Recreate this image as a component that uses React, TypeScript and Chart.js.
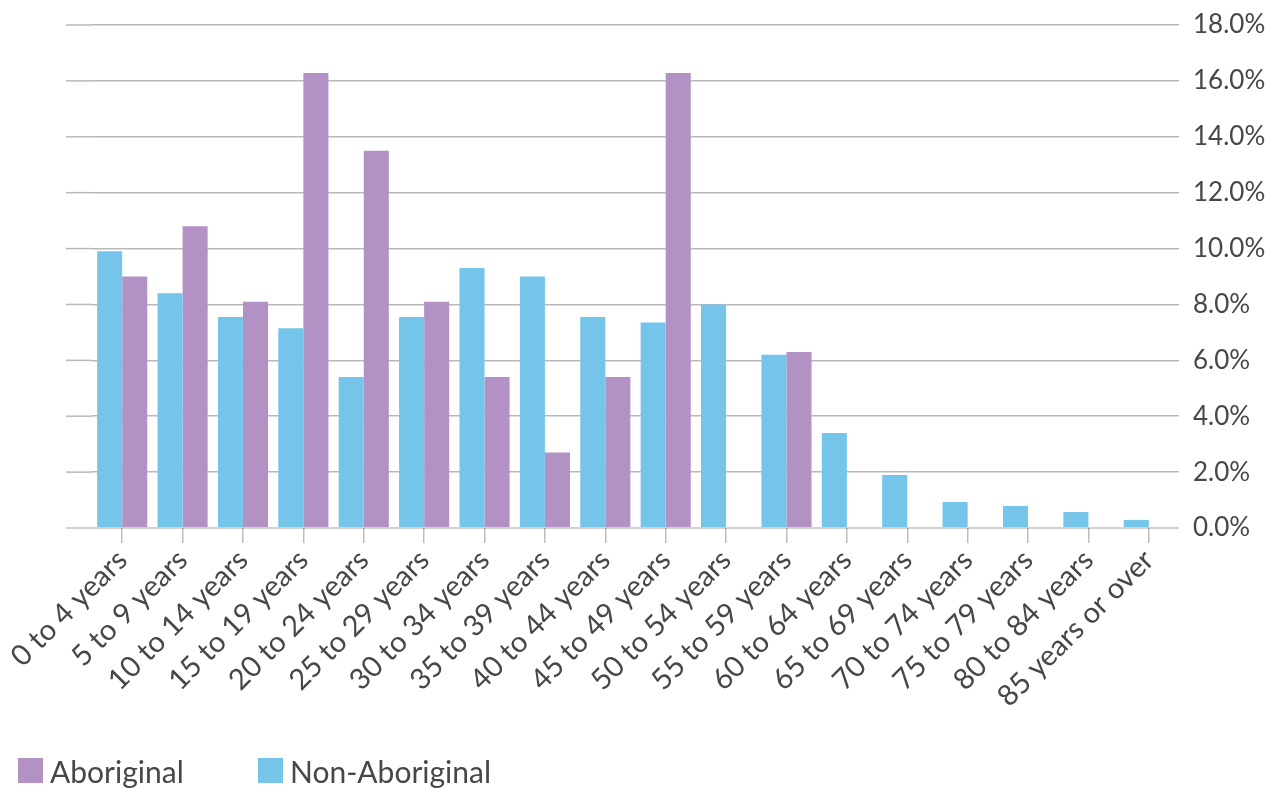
import React, { useEffect, useRef } from "react";
import { Chart, registerables } from "chart.js";

Chart.register(...registerables);

const categories = [
  "0 to 4 years", "5 to 9 years", "10 to 14 years", "15 to 19 years",
  "20 to 24 years", "25 to 29 years", "30 to 34 years", "35 to 39 years",
  "40 to 44 years", "45 to 49 years", "50 to 54 years", "55 to 59 years",
  "60 to 64 years", "65 to 69 years", "70 to 74 years", "75 to 79 years",
  "80 to 84 years", "85 years or over",
];
const nonAboriginal = [9.9, 8.4, 7.55, 7.15, 5.4, 7.55, 9.3, 9.0, 7.55, 7.35, 8.0, 6.2, 3.4, 1.9, 0.93, 0.79, 0.57, 0.29];
const aboriginal = [9.0, 10.8, 8.1, 16.28, 13.5, 8.1, 5.4, 2.7, 5.4, 16.28, 0, 6.3, 0, 0, 0, 0, 0, 0];
const seriesNames = ["Non-Aboriginal", "Aboriginal"];
const yMin = 0;
const yMax = 18;
const yStep = 2;

const FONT = "Lato, 'Open Sans', sans-serif";
const TEXT = "#474747";
const BLUE = "#74C5E9";
const PURPLE = "#B292C4";
const GRID = "rgba(0,0,0,0.28)";
const BASE = "rgba(0,0,0,0.18)";

const gridExtend = {
  id: "gridExtend",
  afterDraw(chart: any) {
    const { ctx, chartArea, scales } = chart;
    const y = scales.y;
    ctx.save();
    y.ticks.forEach((t: any) => {
      const py = y.getPixelForValue(t.value);
      ctx.strokeStyle = t.value === 0 ? BASE : GRID;
      ctx.lineWidth = t.value === 0 ? 2 : 1.5;
      ctx.beginPath();
      ctx.moveTo(66, py);
      ctx.lineTo(chartArea.left, py);
      ctx.stroke();
    });
    ctx.restore();
  },
};

const customLegend = {
  id: "customLegend",
  afterDraw(chart: any) {
    const { ctx } = chart;
    const items = chart.data.datasets.map((d: any) => ({ label: d.label, color: d.backgroundColor })).reverse();
    ctx.save();
    ctx.font = `30px ${FONT}`;
    ctx.textBaseline = "alphabetic";
    ctx.textAlign = "left";
    items.forEach((it: any, i: number) => {
      const x = 18 + i * 240;
      ctx.fillStyle = it.color;
      ctx.fillRect(x, 758, 25, 25);
      ctx.fillStyle = TEXT;
      ctx.fillText(it.label, x + 32, 783);
    });
    ctx.restore();
  },
};

export default function App() {
  const ref = useRef<HTMLCanvasElement | null>(null);
  useEffect(() => {
    if (!ref.current) return;
    const chart = new Chart(ref.current, {
      type: "bar",
      data: {
        labels: categories,
        datasets: [
          { label: seriesNames[0], data: nonAboriginal, backgroundColor: BLUE, categoryPercentage: 0.83, barPercentage: 1.0 },
          { label: seriesNames[1], data: aboriginal, backgroundColor: PURPLE, categoryPercentage: 0.83, barPercentage: 1.0 },
        ],
      },
      options: {
        animation: false,
        responsive: false,
        maintainAspectRatio: false,
        layout: { padding: { left: 92, top: 25, right: 0, bottom: 60 } },
        plugins: { legend: { display: false }, tooltip: { enabled: false } },
        scales: {
          x: {
            offset: true,
            grid: { display: true, drawOnChartArea: false, offset: false, drawTicks: true, tickLength: 15, color: "#bdbdbd", lineWidth: 1.5 },
            border: { display: false },
            ticks: { color: TEXT, font: { family: FONT, size: 29 }, minRotation: 45, maxRotation: 45, autoSkip: false, padding: 0 },
            afterFit(scale: any) { scale.height = 200; },
          },
          y: {
            position: "right",
            min: yMin,
            max: yMax,
            z: 1,
            grid: {
              drawTicks: false,
              color: (c: any) => (c.tick && c.tick.value === 0 ? BASE : GRID),
              lineWidth: (c: any) => (c.tick && c.tick.value === 0 ? 2 : 1.5),
            },
            border: { display: false },
            ticks: {
              stepSize: yStep,
              padding: 14,
              color: TEXT,
              font: { family: FONT, size: 26 },
              callback: (v: any) => Number(v).toFixed(1) + "%",
            },
            afterFit(scale: any) {
              scale.width = 101;
              scale.paddingTop = 0;
              scale.paddingBottom = 0;
            },
          },
        },
      },
      plugins: [gridExtend, customLegend],
    });
    return () => chart.destroy();
  }, []);
  return (
    <div style={{ position: "absolute", left: 0, top: 0, width: 1280, height: 788, overflow: "hidden", background: "#fff" }}>
      <canvas ref={ref} width={1280} height={788} style={{ display: "block" }} />
    </div>
  );
}
